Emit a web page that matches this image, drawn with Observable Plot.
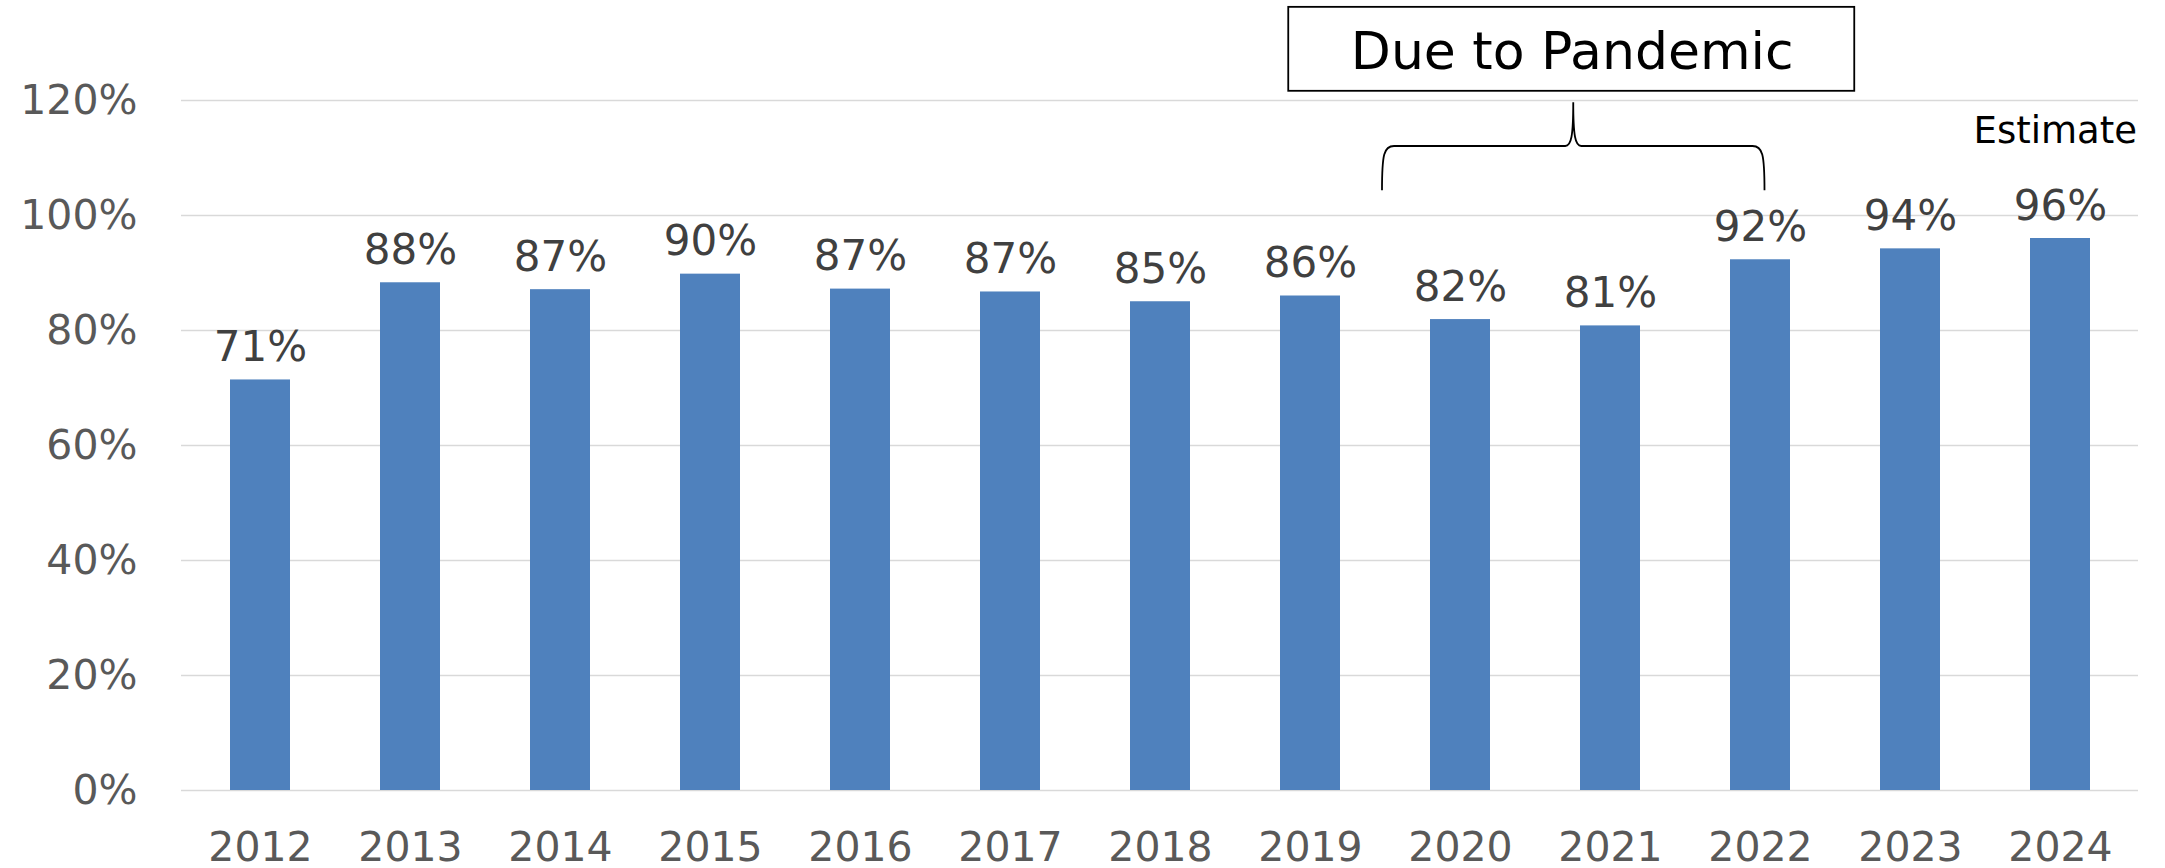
<!DOCTYPE html>
<html>
<head>
<meta charset="utf-8">
<script src="https://cdn.jsdelivr.net/npm/d3@7"></script>
<script src="https://cdn.jsdelivr.net/npm/@observablehq/plot@0.6"></script>
<style>
  html, body { margin: 0; padding: 0; background: #ffffff; }
  #chart svg { display: block; }
</style>
</head>
<body>
<div id="chart"></div>
<script>
// ---- data ----
const years = ["2012", "2013", "2014", "2015", "2016", "2017", "2018", "2019", "2020", "2021", "2022", "2023", "2024"];
const rates = [71.4, 88.3, 87.1, 89.8, 87.2, 86.7, 85.0, 86.0, 81.9, 80.8, 92.3, 94.2, 96.0];
const yTicks = [0, 20, 40, 60, 80, 100, 120];
const annotationText = "Due to Pandemic";
const braceStartYear = "2020";
const estimateText = "Estimate";

const data = years.map((year, i) => ({ year, rate: rates[i] }));

const plot = Plot.plot({
  width: 2165,
  height: 868,
  marginLeft: 181,
  marginRight: 27,
  marginTop: 100,
  marginBottom: 78,
  style: { fontFamily: "'DejaVu Sans', Verdana, sans-serif", background: "#ffffff", overflow: "visible" },
  x: { domain: years, paddingInner: 0.6, paddingOuter: 0.3, label: null },
  y: { domain: [0, 120], label: null },
  marks: [
    Plot.ruleY(yTicks, { stroke: "#d9d9d9", strokeWidth: 1.5 }),
    Plot.barY(data, { x: "year", y: "rate", fill: "#4f81bd" }),
    Plot.text(data, {
      x: "year", y: "rate",
      text: d => Math.round(d.rate) + "%",
      dy: -19, lineAnchor: "bottom",
      fontSize: 42, fill: "#404040"
    }),
    Plot.axisY({ ticks: yTicks, tickFormat: d => d + "%", tickSize: 0, tickPadding: 44, fontSize: 41, color: "#595959", label: null }),
    Plot.axisX({ tickSize: 0, tickPadding: 41, fontSize: 41, color: "#595959", label: null })
  ]
});

document.getElementById("chart").appendChild(plot);

// ---- annotations positioned through the plot's scales ----
const xs = plot.scale("x");
const ys = plot.scale("y");
const step = xs.step, bw = xs.bandwidth;
const L = xs.apply(braceStartYear) - (step - bw) / 2 - 3;  // left end of brace
const R = L + 2.55 * step;                                  // right end of brace
const T = (L + R) / 2;                                      // brace tip
const yTip = ys.apply(119.6);
const yH = ys.apply(112);
const yEnd = ys.apply(104.3);

const svg = d3.select(plot);
const g = svg.append("g").attr("fill", "none").attr("stroke", "#000").attr("stroke-width", 1.8);
const path = `M${L},${yEnd} C${L},${yH + 8} ${L + 2},${yH} ${L + 12},${yH} H${T - 8} C${T - 2},${yH} ${T},${yH - 10} ${T},${yTip}` +
             ` M${T},${yTip} C${T},${yH - 10} ${T + 2},${yH} ${T + 8},${yH} H${R - 12} C${R - 2},${yH} ${R},${yH + 8} ${R},${yEnd}`;
g.append("path").attr("d", path);

const boxTop = ys.apply(136.2), boxBottom = ys.apply(121.6);
const boxW = 566;
svg.append("rect")
  .attr("x", T - 2 - boxW / 2).attr("y", boxTop)
  .attr("width", boxW).attr("height", boxBottom - boxTop)
  .attr("fill", "#ffffff").attr("stroke", "#000").attr("stroke-width", 1.8);
svg.append("text")
  .attr("x", T - 1).attr("y", ys.apply(125.4))
  .attr("text-anchor", "middle")
  .attr("font-family", "'DejaVu Sans', Verdana, sans-serif")
  .attr("font-size", 52)
  .attr("fill", "#000")
  .text(annotationText);

const xRight = xs.apply(years[years.length - 1]) + bw + (step - bw) / 2 + 2;
svg.append("text")
  .attr("x", xRight).attr("y", ys.apply(112.5))
  .attr("text-anchor", "end")
  .attr("font-family", "'DejaVu Sans', Verdana, sans-serif")
  .attr("font-size", 37)
  .attr("fill", "#000")
  .text(estimateText);
</script>
</body>
</html>
